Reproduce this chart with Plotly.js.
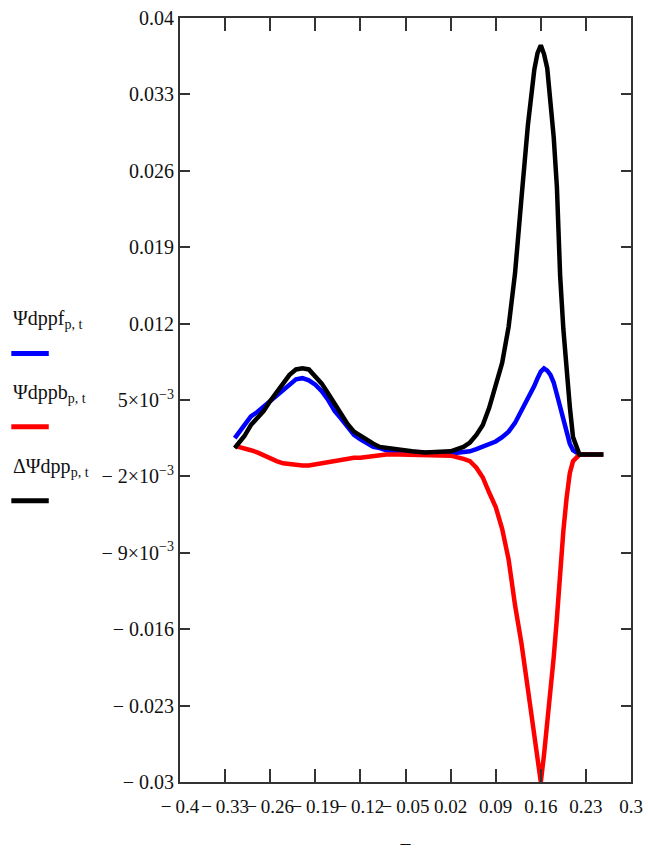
<!DOCTYPE html>
<html>
<head>
<meta charset="utf-8">
<script src="https://cdn.plot.ly/plotly-3.0.1.min.js"></script>
<style>
  html, body { margin: 0; padding: 0; background: #ffffff; }
  #chart { width: 648px; height: 854px; }
</style>
</head>
<body>
<div id="chart"></div>
<script>
// ---- data ----
const xValues = [-0.315,-0.30,-0.29,-0.28,-0.27,-0.26,-0.25,-0.24,-0.23,-0.22,-0.21,-0.20,-0.19,-0.18,-0.17,-0.16,-0.15,-0.14,-0.13,-0.12,-0.11,-0.10,-0.09,-0.08,
  -0.06,-0.04,-0.02,0.00,0.02,0.04,
  0.05,0.06,0.07,0.08,0.09,0.10,0.11,0.12,0.13,0.14,0.15,
  0.155,0.16,0.165,0.17,0.175,0.18,0.185,0.19,0.195,0.20,0.205,
  0.21,0.22,0.23,0.24,0.257];

const psiF = [0.0015,0.0027,0.0035,0.0039,0.0044,0.0049,0.0055,0.0059,0.0064,0.0069,0.0070,0.0068,0.0064,0.0058,0.0050,0.0040,0.0033,0.0025,0.0018,0.0014,0.0010,0.0007,0.0006,0.0004,
  0.0003,0.0002,0.0001,0.0001,0.0001,0.0002,
  0.0003,0.0005,0.0007,0.0009,0.0012,0.0016,0.0021,0.0029,0.0040,0.0051,0.0063,
  0.0070,0.0076,0.0079,0.0077,0.0073,0.0066,0.0055,0.0044,0.0031,0.0019,0.0010,
  0.0004,0,0,0,0];

const psiB = [0.0008,0.0006,0.0004,0.0002,-0.0001,-0.0004,-0.0006,-0.0008,-0.0009,-0.0010,-0.0010,-0.0010,-0.0009,-0.0008,-0.0006,-0.0006,-0.0005,-0.0004,-0.0003,-0.0003,-0.0002,-0.0001,-0.0001,0,
  0,0,0,0,-0.0001,-0.0004,
  -0.0006,-0.0012,-0.0021,-0.0035,-0.0048,-0.0068,-0.0096,-0.0138,-0.0173,-0.0215,-0.0255,
  -0.0278,-0.0300,-0.0275,-0.0247,-0.0214,-0.0186,-0.0150,-0.0104,-0.0070,-0.0040,-0.0017,
  -0.0006,0,0,0,0];

const dPsi = [0.0006,0.0017,0.0027,0.0034,0.0040,0.0049,0.0057,0.0065,0.0073,0.0078,0.0079,0.0078,0.0072,0.0065,0.0056,0.0046,0.0038,0.0028,0.0021,0.0017,0.0013,0.0010,0.0007,0.0006,
  0.0004,0.0003,0.0002,0.0002,0.0003,0.0007,
  0.0011,0.0018,0.0027,0.0043,0.0062,0.0084,0.0117,0.0166,0.0235,0.0302,0.0353,
  0.0368,0.0375,0.0367,0.0354,0.0325,0.0291,0.0245,0.0164,0.0115,0.0076,0.0044,
  0.0016,0,0,0,0];

const xTickVals = [-0.4,-0.33,-0.26,-0.19,-0.12,-0.05,0.02,0.09,0.16,0.23,0.3];
const xTickText = ["\u2212\u20090.4","\u2212\u20090.33","\u2212\u20090.26","\u2212\u20090.19","\u2212\u20090.12","\u2212\u20090.05","0.02","0.09","0.16","0.23","0.3"];
const yTickVals = [0.04,0.033,0.026,0.019,0.012,0.005,-0.002,-0.009,-0.016,-0.023,-0.03];
const yTickText = ["0.04","0.033","0.026","0.019","0.012","5\u00d710<sup>\u22123</sup>","\u2212 2\u00d710<sup>\u22123</sup>","\u2212 9\u00d710<sup>\u22123</sup>","\u2212 0.016","\u2212 0.023","\u2212 0.03"];

const seriesNames = ["\u03a8dppf<sub>p, t</sub>","\u03a8dppb<sub>p, t</sub>","\u0394\u03a8dpp<sub>p, t</sub>"];
const seriesColors = ["#0000ff","#ff0000","#000000"];

// ---- chart ----
const FONT = "Liberation Serif, Times New Roman, serif";
const ys = [psiF, psiB, dPsi];
const traces = ys.map((y, i) => ({
  x: xValues, y: y, type: "scatter", mode: "lines",
  name: seriesNames[i],
  line: { color: seriesColors[i], width: 4.5 },
  showlegend: false, hoverinfo: "skip"
}));

// legend drawn as text with a swatch underneath (as in the reference)
const legendY = [0.605, 0.509, 0.412];
const annotations = seriesNames.map((t, i) => ({
  xref: "paper", yref: "paper", x: -0.375, y: legendY[i],
  xanchor: "left", yanchor: "middle", showarrow: false,
  text: t, font: { family: FONT, size: 20, color: "#111" }
}));
const shapes = seriesColors.map((c, i) => ({
  type: "line", xref: "paper", yref: "paper",
  x0: -0.374, x1: -0.291, y0: legendY[i] - 0.044, y1: legendY[i] - 0.044,
  line: { color: c, width: 5 }
}));

const layout = {
  width: 648, height: 854,
  margin: { l: 180, r: 17, t: 18, b: 72 },
  paper_bgcolor: "#ffffff", plot_bgcolor: "#ffffff",
  font: { family: FONT, size: 20, color: "#111" },
  xaxis: {
    range: [-0.4, 0.3], tickmode: "array", tickvals: xTickVals, ticktext: xTickText,
    tickangle: 0, ticklabeloverflow: "allow", ticklabelstandoff: 6,
    ticks: "inside", ticklen: 13, tickwidth: 2, tickcolor: "#333",
    showline: true, linecolor: "#333", linewidth: 2, mirror: "ticks",
    showgrid: false, zeroline: false,
    tickfont: { family: FONT, size: 19, color: "#111" },
    title: { text: "\u2013", standoff: 24, font: { family: FONT, size: 20, color: "#111" } }
  },
  yaxis: {
    range: [-0.03, 0.04], tickmode: "array", tickvals: yTickVals, ticktext: yTickText,
    ticks: "inside", ticklen: 10, tickwidth: 2, tickcolor: "#333",
    showline: true, linecolor: "#333", linewidth: 2, mirror: "ticks",
    showgrid: false, zeroline: false,
    tickfont: { family: FONT, size: 20, color: "#111" }
  },
  annotations: annotations,
  shapes: shapes
};

Plotly.newPlot("chart", traces, layout, { staticPlot: true, displayModeBar: false });
</script>
</body>
</html>
